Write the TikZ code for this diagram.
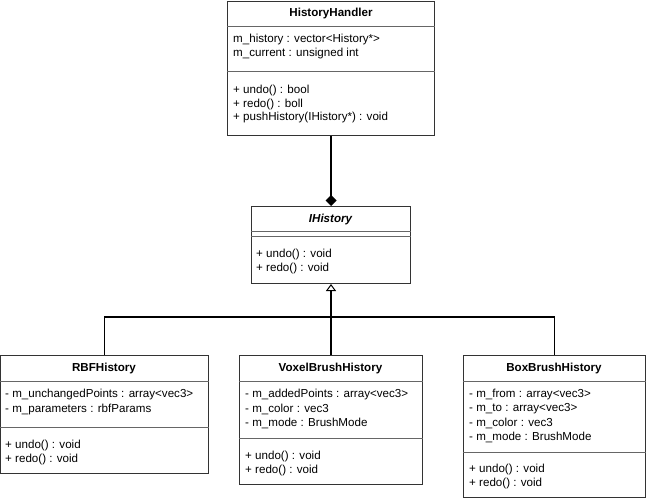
\documentclass[tikz,border=0pt]{standalone}
\usepackage{fontspec}
\setmainfont{Liberation Sans}
\usetikzlibrary{arrows.meta}
\begin{document}
\begin{tikzpicture}[x=1pt,y=-1pt,
  box/.style={draw=black!80, line width=1pt, fill=white, anchor=north west, inner sep=0pt},
  ttl/.style={font=\fontsize{11.6}{13}\selectfont\bfseries, inner sep=0pt},
  txt/.style={font=\fontsize{11.6}{13}\selectfont, anchor=west, inner sep=0pt},
  sep/.style={draw=black!60, line width=1pt},
  conn/.style={draw=black, line width=1.6pt}]
\useasboundingbox (0,0) rectangle (646,500);
% HistoryHandler
\node[box, minimum width=207pt, minimum height=134pt] (hh) at (227,1) {};
\node[ttl] (hht) at (331,14) {HistoryHandler};
\draw[sep] (hh.west |- 0,27) -- (hh.east |- 0,27);
\node[txt] (hha1) at (233,40) {m\_history : vector<History*>};
\node[txt] (hha2) at (233,54) {m\_current : unsigned int};
\draw[sep] (hh.west |- 0,72) -- (hh.east |- 0,72);
\node[txt] (hhm1) at (233,90) {+ undo() : bool};
\node[txt] (hhm2) at (233,104) {+ redo() : boll};
\node[txt] (hhm3) at (233,118) {+ pushHistory(IHistory*) : void};
% IHistory
\node[box, minimum width=159pt, minimum height=77pt] (ih) at (251,206) {};
\node[ttl, font=\fontsize{11.6}{13}\selectfont\bfseries\itshape] (iht) at (330.5,220) {IHistory};
\draw[sep] (ih.west |- 0,232) -- (ih.east |- 0,232);
\draw[sep] (ih.west |- 0,237) -- (ih.east |- 0,237);
\node[txt] (ihm1) at (256,254) {+ undo() : void};
\node[txt] (ihm2) at (256,268) {+ redo() : void};
% RBFHistory
\node[box, minimum width=208pt, minimum height=118pt] (rbf) at (0,355) {};
\node[ttl] (rbft) at (104,369) {RBFHistory};
\draw[sep] (rbf.west |- 0,381) -- (rbf.east |- 0,381);
\node[txt] (rbfa1) at (5,395) {- m\_unchangedPoints : array<vec3>};
\node[txt] (rbfa2) at (5,409) {- m\_parameters : rbfParams};
\draw[sep] (rbf.west |- 0,427) -- (rbf.east |- 0,427);
\node[txt] (rbfm1) at (5,445) {+ undo() : void};
\node[txt] (rbfm2) at (5,459) {+ redo() : void};
% VoxelBrushHistory
\node[box, minimum width=183pt, minimum height=129pt] (vox) at (239,355) {};
\node[ttl] (voxt) at (330.5,369) {VoxelBrushHistory};
\draw[sep] (vox.west |- 0,381) -- (vox.east |- 0,381);
\node[txt] (voxa1) at (245,395) {- m\_addedPoints : array<vec3>};
\node[txt] (voxa2) at (245,409) {- m\_color : vec3};
\node[txt] (voxa3) at (245,423) {- m\_mode : BrushMode};
\draw[sep] (vox.west |- 0,438) -- (vox.east |- 0,438);
\node[txt] (voxm1) at (245,456) {+ undo() : void};
\node[txt] (voxm2) at (245,470) {+ redo() : void};
% BoxBrushHistory
\node[box, minimum width=182pt, minimum height=142pt] (bbh) at (463,355) {};
\node[ttl] (bbht) at (554,369) {BoxBrushHistory};
\draw[sep] (bbh.west |- 0,381) -- (bbh.east |- 0,381);
\node[txt] (bbha1) at (469,395) {- m\_from : array<vec3>};
\node[txt] (bbha2) at (469,409) {- m\_to : array<vec3>};
\node[txt] (bbha3) at (469,423) {- m\_color : vec3};
\node[txt] (bbha4) at (469,437) {- m\_mode : BrushMode};
\draw[sep] (bbh.west |- 0,452) -- (bbh.east |- 0,452);
\node[txt] (bbhm1) at (469,469) {+ undo() : void};
\node[txt] (bbhm2) at (469,483) {+ redo() : void};
% connectors
\coordinate (j) at (330.5,317);
\draw[conn, -{Diamond[length=11pt,width=11pt]}] (hh.south -| ih.north) -- (ih.north);
\draw[conn] (rbf.north) |- (j) -| (bbh.north);
\draw[conn, -{Triangle[open,length=7pt,width=10pt,line width=1pt]}] (vox.north) -- (ih.south);
\end{tikzpicture}
\end{document}
